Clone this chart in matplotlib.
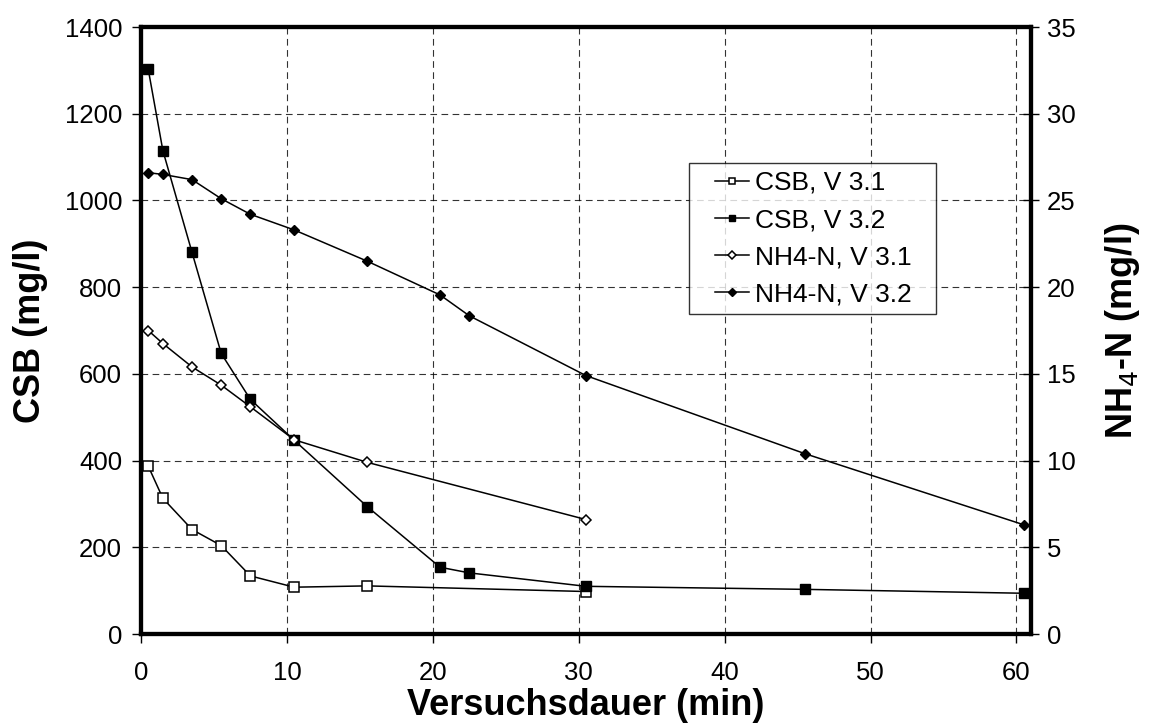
import matplotlib
matplotlib.use('Agg')
import matplotlib.pyplot as plt
from matplotlib.lines import Line2D
from matplotlib.legend_handler import HandlerLine2D

plt.rcParams['font.family'] = ['Liberation Sans', 'DejaVu Sans']

# Sampling times (min)
t_v31 = [0.5, 1.5, 3.5, 5.5, 7.5, 10.5, 15.5, 30.5]
t_v32 = [0.5, 1.5, 3.5, 5.5, 7.5, 10.5, 15.5, 20.5, 22.5, 30.5, 45.5, 60.5]

# CSB (mg/l), left axis
csb_v31 = [387, 313, 241, 204, 134, 108, 111, 98]
csb_v32 = [1302, 1115, 880, 647, 541, 447, 294, 154, 141, 110, 103, 94]

# NH4-N (mg/l), right axis
nh4_v31 = [17.5, 16.75, 15.4, 14.35, 13.1, 11.2, 9.9, 6.6]
nh4_v32 = [26.6, 26.5, 26.2, 25.1, 24.2, 23.3, 21.5, 19.55, 18.35, 14.9, 10.4, 6.3]

fig = plt.figure(figsize=(11.49, 7.26), dpi=100)
ax = fig.add_axes([0.1227, 0.1267, 0.7746, 0.8361])
ax2 = ax.twinx()

# CSB lines on left axis
l1, = ax.plot(t_v31, csb_v31, color='black', lw=1.1, marker='s', ms=6.5,
              mfc='white', mec='black', mew=1.1, label='CSB, V 3.1', zorder=3)
l2, = ax.plot(t_v32, csb_v32, color='black', lw=1.1, marker='s', ms=6.5,
              mfc='black', mec='black', label='CSB, V 3.2', zorder=3)

# NH4-N lines on right axis
l3, = ax2.plot(t_v31, nh4_v31, color='black', lw=1.1, marker='D', ms=5,
               mfc='white', mec='black', mew=1.1, label='NH4-N, V 3.1')
l4, = ax2.plot(t_v32, nh4_v32, color='black', lw=1.1, marker='D', ms=5,
               mfc='black', mec='black', label='NH4-N, V 3.2')

ax.set_xlim(0, 61)
ax.set_ylim(0, 1400)
ax.set_yticks(range(0, 1401, 200))
ax.set_xticks(range(0, 61, 10))
ax2.set_ylim(0, 35)
ax2.set_yticks(range(0, 36, 5))

ax.grid(True, color='black', linestyle=(0, (6, 4)), linewidth=0.8, alpha=0.8)

for a in (ax, ax2):
    for s in a.spines.values():
        s.set_linewidth(3)
ax.tick_params(axis='both', labelsize=18.5, direction='out', length=6.5, width=1)
ax.tick_params(axis='x', pad=13)
ax.tick_params(axis='y', pad=7)
ax2.tick_params(axis='y', labelsize=18.5, direction='inout', length=11, width=1, pad=6)

ax.set_xlabel('Versuchsdauer (min)', fontsize=26, fontweight='bold', labelpad=2)
ax.set_ylabel('CSB (mg/l)', fontsize=26, fontweight='bold', labelpad=12)
ax2.set_ylabel('NH$_4$-N (mg/l)', fontsize=26, fontweight='bold', rotation=90, labelpad=20)

# legend: handle line offset to the right, box widened to match reference
leg = ax2.legend(handles=[l1, l2, l3, l4], loc='upper left',
                 bbox_to_anchor=(0.6157, 0.0, 0.2775, 0.776), mode='expand',
                 fontsize=19, frameon=True, fancybox=False, edgecolor='black',
                 handlelength=1.97, handletextpad=0.23, borderpad=0.3,
                 labelspacing=0.5, markerscale=0.75, borderaxespad=0,
                 handler_map={Line2D: HandlerLine2D(xpad=0.68)})
leg.get_frame().set_linewidth(1)

fig.savefig('out.png', dpi=100)
